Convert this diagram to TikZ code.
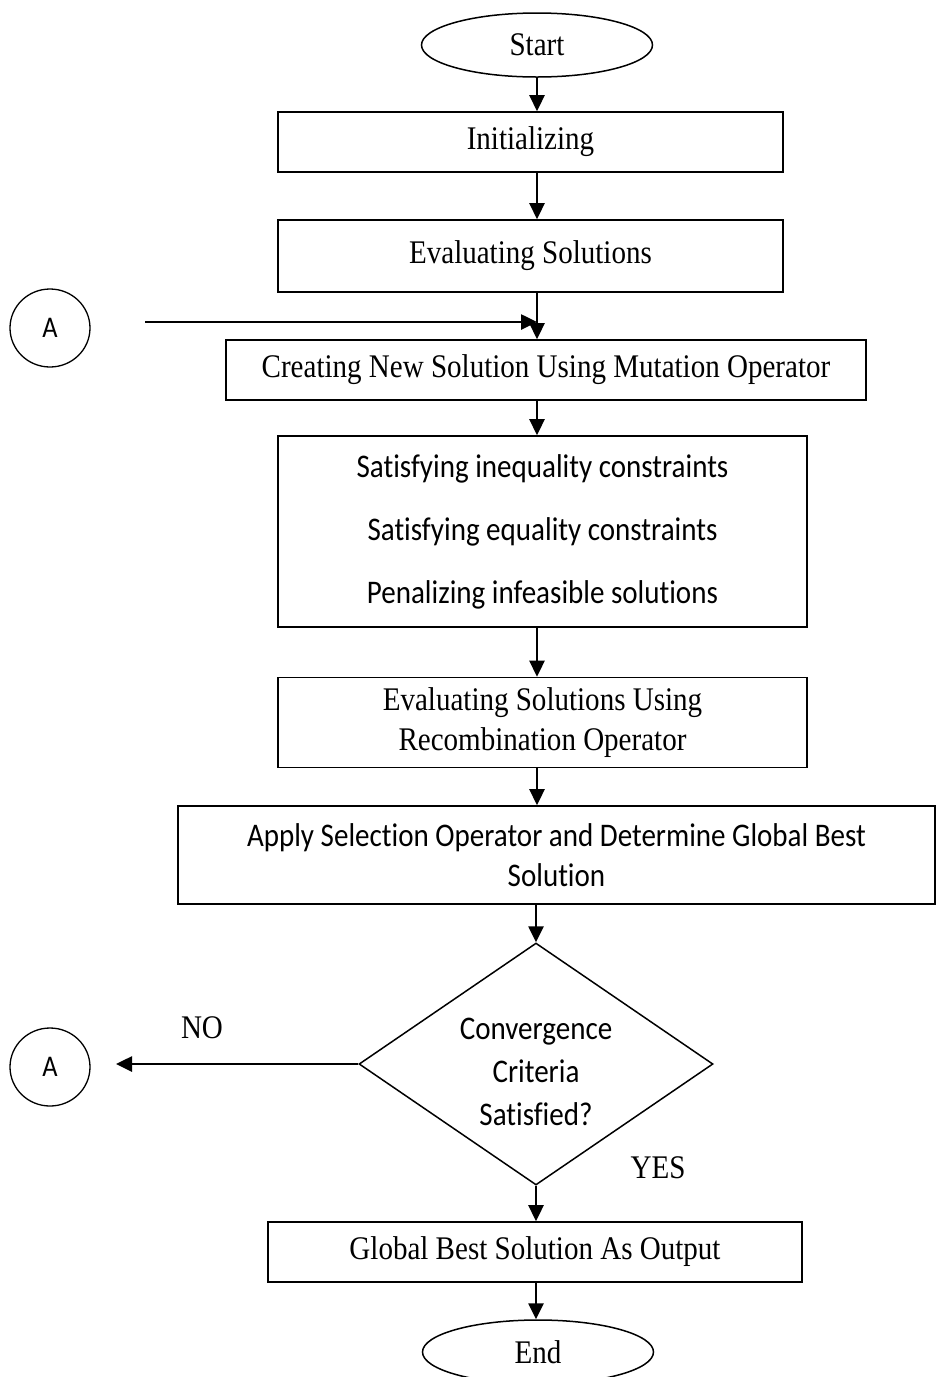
\documentclass[tikz,border=0pt]{standalone}
\usepackage{fontspec}
\setmainfont{Liberation Serif}[FakeStretch=0.88]
\newfontfamily\calibfont{Carlito}[FakeStretch=0.88, Ligatures=NoCommon]
\usetikzlibrary{shapes.geometric,arrows.meta}
\tikzset{
  box/.style={draw, rectangle, line width=1.6pt, inner sep=0, align=center},
  sans/.style={font=\calibfont\fontsize{33}{40}\selectfont},
  term/.style={draw, ellipse, line width=1.5pt, minimum width=231, minimum height=64, inner sep=0},
  conn/.style={draw, ellipse, line width=1.3pt, minimum width=80, minimum height=78, inner sep=0,
    font=\calibfont\fontsize{30}{32}\selectfont},
  decision/.style={draw, diamond, line width=1.5pt, aspect=1.46, minimum width=354, minimum height=242,
    inner sep=0, align=center, font=\calibfont\fontsize{33}{43}\selectfont},
  flow/.style={line width=2.6pt, -{Triangle[length=16pt,width=15pt]}}
}
\newcommand{\drawbox}{\node[box]}
\newcommand{\drawterm}{\node[term]}
\newcommand{\drawconn}{\node[conn]}
\begin{document}
\begin{tikzpicture}[x=1pt, y=-1pt, every node/.style={font=\fontsize{33}{40}\selectfont}]
\useasboundingbox (0,0) rectangle (936,1377);
%main column

\drawterm (start) at (537,45) {Start};
\drawbox (init) [minimum width=505, minimum height=60] at (530.5,142) {Initializing};
\drawbox (evalsol) [minimum width=505, minimum height=72] at (530.5,256) {Evaluating Solutions};
\drawbox (mutate) [minimum width=640, minimum height=60] at (546,370) {Creating New Solution Using Mutation Operator};
\drawbox (satisfy) [sans, minimum width=529, minimum height=191] at (542.5,531.5)
  {Satisfying inequality constraints\\[23pt]Satisfying equality constraints\\[23pt]Penalizing infeasible solutions};
\drawbox (recomb) [minimum width=529, minimum height=90] at (542.5,722.5) {Evaluating Solutions Using\\Recombination Operator};
\drawbox (select) [sans, minimum width=757, minimum height=98] at (556.5,855) {Apply Selection Operator and Determine Global Best\\Solution};
\node[decision] (check) at (536,1064) {\rule{0pt}{37pt}Convergence\\Criteria\\Satisfied?};
\drawbox (output) [minimum width=534, minimum height=60] at (535,1252) {Global Best Solution As Output};
\drawterm (end) at (538,1352) {End};

%loop back connectors
\drawconn (atop) at (50,328) {A};
\drawconn (abot) at (50,1067) {A};
\coordinate (atail) at (145,322);
\coordinate (amerge) at (537,322);
\coordinate (nohead) at (116,1064);
\node (nolabel) at (202,1028) {NO};
\node (yeslabel) at (658,1168) {YES};

\draw[flow] (start.south) -- (init.north -| start);
\draw[flow] (init.south -| start) -- (evalsol.north -| start);
\draw[line width=2.6pt] (evalsol.south -| start) -- (amerge);
\draw[flow] (amerge) -- (mutate.north -| start);
\draw[flow] (atail) -- (amerge);
\draw[flow] (mutate.south -| start) -- (satisfy.north -| start);
\draw[flow] (satisfy.south -| start) -- (recomb.north -| start);
\draw[flow] (recomb.south -| start) -- (select.north -| start);
\draw[flow] (select.south -| check) -- (check.north);
\draw[flow] (check.west) -- (nohead);
\draw[flow] (check.south) -- (output.north -| check);
\draw[flow] (output.south -| check) -- (end.north -| check);
\end{tikzpicture}
\end{document}
